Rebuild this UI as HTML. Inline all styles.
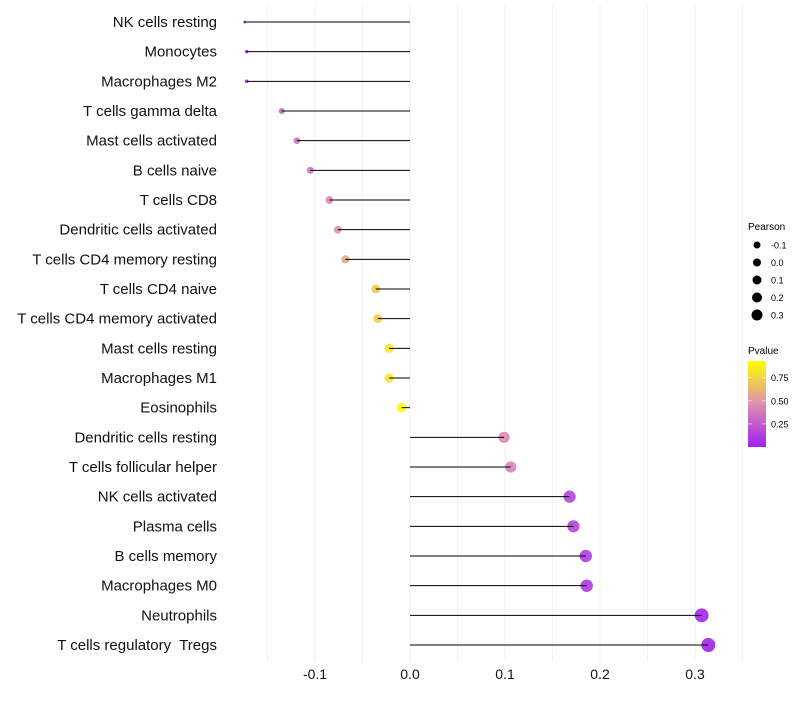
<!DOCTYPE html>
<html><head><meta charset="utf-8"><style>body{margin:0;background:#fff}svg{font-family:"Liberation Sans",sans-serif}text{white-space:pre}</style></head>
<body>
<svg id="c" width="800" height="700">
<defs><linearGradient id="g" x1="0" y1="1" x2="0" y2="0">
<stop offset="0" stop-color="#a020f0"/><stop offset="0.5" stop-color="#de8fb0"/><stop offset="1" stop-color="#ffff00"/></linearGradient></defs>
</svg>
<script>
const categories=["NK cells resting","Monocytes","Macrophages M2","T cells gamma delta","Mast cells activated","B cells naive","T cells CD8","Dendritic cells activated","T cells CD4 memory resting","T cells CD4 naive","T cells CD4 memory activated","Mast cells resting","Macrophages M1","Eosinophils","Dendritic cells resting","T cells follicular helper","NK cells activated","Plasma cells","B cells memory","Macrophages M0","Neutrophils","T cells regulatory  Tregs"];
const pearson=[-0.174,-0.172,-0.172,-0.135,-0.119,-0.105,-0.085,-0.076,-0.068,-0.036,-0.034,-0.022,-0.022,-0.009,0.099,0.106,0.168,0.172,0.185,0.186,0.307,0.314];
const pvalue=[0.05,0.06,0.06,0.3,0.33,0.37,0.45,0.5,0.56,0.72,0.74,0.82,0.82,0.92,0.45,0.42,0.16,0.15,0.12,0.11,0.02,0.01];
const xTicks=[-0.1,0,0.1,0.2,0.3];
const xTickLabels=["-0.1","0.0","0.1","0.2","0.3"];
const sizeLegend=[-0.1,0,0.1,0.2,0.3];
const sizeLegendLabels=["-0.1","0.0","0.1","0.2","0.3"];
const pTicks=[0.25,0.5,0.75];
const pTickLabels=["0.25","0.50","0.75"];
const NS="http://www.w3.org/2000/svg",svg=document.getElementById('c');
const pmin=Math.min(...pearson),pmax=Math.max(...pearson);
function x(v){return 410+v*950;}
function y(i){return 22+i*(623/21);}
function r(v){const t=Math.max(0,(v-pmin)/(pmax-pmin));return 1.5+5.5*Math.sqrt(t);}
function pc(p){const t=Math.max(0,Math.min(1,p/0.93));const a=[160,32,240],b=[222,143,176],c=[255,255,0];let s,e,u;if(t<0.5){s=a;e=b;u=t/0.5}else{s=b;e=c;u=(t-0.5)/0.5}return 'rgb('+s.map((q,k)=>Math.round(q+(e[k]-q)*u)).join(',')+')';}
function el(t,a,txt){const e=document.createElementNS(NS,t);for(const k in a)e.setAttribute(k,a[k]);if(txt!==undefined)e.textContent=txt;svg.appendChild(e);return e;}
for(let v=-0.15;v<=0.351;v+=0.05){const g=el('line',{x1:x(v),x2:x(v),y1:5,y2:662,stroke:'#f2f2f2','stroke-width':1});}
xTicks.forEach((v,i)=>{const t=el('text',{x:x(v),y:679,'font-size':14,'text-anchor':'middle',fill:'#111'},xTickLabels[i]);});
categories.forEach((c,i)=>{
const t=el('text',{x:217,y:y(i)+5,'font-size':15,'text-anchor':'end',fill:'#111'},c);
const d=el('circle',{cx:x(pearson[i]),cy:y(i),r:r(pearson[i]),fill:pc(pvalue[i]),'fill-opacity':0.9});
const l=el('line',{x1:x(0),x2:x(pearson[i]),y1:y(i),y2:y(i),stroke:'#000','stroke-width':1});
});
let t=el('text',{x:748,y:230,'font-size':10},'Pearson');
sizeLegend.forEach((v,i)=>{const yy=245+i*17.5;const c=el('circle',{cx:757,cy:yy,r:3.5+(v+0.1)*5,fill:'#000'});
const tt=el('text',{x:771,y:yy+3.5,'font-size':9},sizeLegendLabels[i]);});
t=el('text',{x:748,y:354,'font-size':10},'Pvalue');
const cb=el('rect',{x:748,y:361,width:18,height:86,fill:'url(#g)'});
pTicks.forEach((p,i)=>{const yy=447-p/0.93*86;el('line',{x1:748,x2:752,y1:yy,y2:yy,stroke:'#fff','stroke-opacity':0.6});el('line',{x1:762,x2:766,y1:yy,y2:yy,stroke:'#fff','stroke-opacity':0.6});
const tt=el('text',{x:771,y:yy+3.5,'font-size':9},pTickLabels[i]);});
</script>
</body></html>
